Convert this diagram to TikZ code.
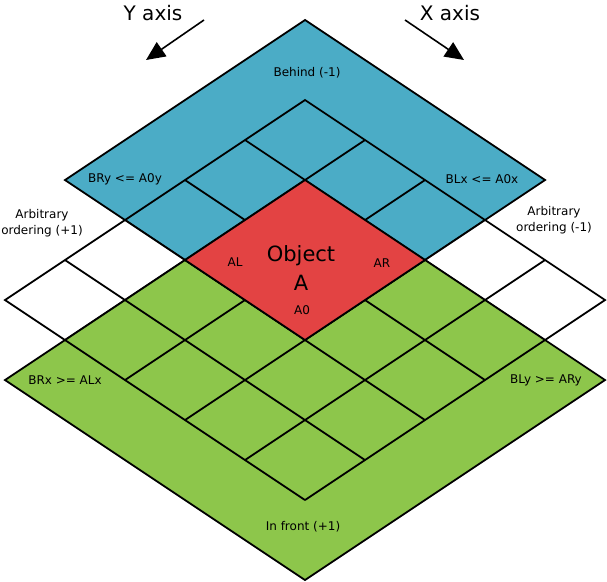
\documentclass[tikz,border=0pt]{standalone}
\usepackage{fontspec}
\setmainfont{DejaVu Sans}
\usepackage{tikz}
\usetikzlibrary{arrows.meta}
\definecolor{behindblue}{HTML}{4BACC6}
\definecolor{frontgreen}{HTML}{8DC64B}
\definecolor{objectred}{HTML}{E34343}
\tikzset{
    iso/.style={shift={(305,180)}, x={(60pt,-40pt)}, y={(-60pt,-40pt)}},
    tile/.style={draw=black, line width=1.8pt, line join=miter},
    gridline/.style={draw=black, line width=1.8pt},
    lbl/.style={font=\fontsize{12}{16}\selectfont, align=center, inner sep=0pt},
    biglbl/.style={font=\fontsize{21}{29}\selectfont, align=center, inner sep=0pt},
    axislbl/.style={font=\fontsize{20}{24}\selectfont, inner sep=0pt},
    axisarrow/.style={-{Triangle[length=19pt, width=17pt]}, line width=1.6pt}
}

\begin{document}
\begin{tikzpicture}[x=1pt, y=-1pt]
    \useasboundingbox (0,0) rectangle (607,581);
    % axes
    \node[axislbl] (ylbl) at (153,13) {Y axis};
    \node[axislbl] (xlbl) at (450,13) {X axis};
    \coordinate (ytail) at (204,20);
    \coordinate (yhead) at (146,60);
    \coordinate (xtail) at (405,20);
    \coordinate (xhead) at (464,60);
    \draw[axisarrow] (ytail) -- (yhead);
    \draw[axisarrow] (xtail) -- (xhead);
    \begin{scope}[iso]
        % behind region
        \filldraw[tile, fill=behindblue] (-2,-2) -- (2,-2) -- (2,2) -- (-2,2) -- cycle;
        \draw[gridline] (-1,2) -- (-1,-1) -- (2,-1);
        \foreach \k in {0,1} {
            \draw[gridline] (\k,-1) -- (\k,0) (-1,\k) -- (0,\k);
        }
        % arbitrary ordering cells
        \filldraw[tile, fill=white] (-1,2) -- (0,2) -- (0,4) -- (-1,4) -- cycle;
        \draw[gridline] (-1,3) -- (0,3);
        \filldraw[tile, fill=white] (2,-1) -- (4,-1) -- (4,0) -- (2,0) -- cycle;
        \draw[gridline] (3,-1) -- (3,0);
        % in front region
        \filldraw[tile, fill=frontgreen] (0,0) -- (5,0) -- (5,5) -- (0,5) -- cycle;
        \foreach \k in {2,3,4} {
            \draw[gridline] (\k,0) -- (\k,4) (0,\k) -- (4,\k);
        }
        \draw[gridline] (1,2) -- (1,4) (2,1) -- (4,1);
        % object A
        \filldraw[tile, fill=objectred] (0,0) -- (2,0) -- (2,2) -- (0,2) -- cycle;
    \end{scope}
    \node[lbl] (behind) at (307,73) {Behind (-1)};
    \node[lbl] (bry) at (125,179) {BRy <= A0y};
    \node[lbl] (blx) at (482,179) {BLx <= A0x};
    \node[lbl] (arbleft) at (42,223) {Arbitrary\\ordering (+1)};
    \node[lbl] (arbright) at (554,220) {Arbitrary\\ordering (-1)};
    \node[biglbl] (obja) at (301,268) {Object\\A};
    \node[lbl] (al) at (235,262) {AL};
    \node[lbl] (ar) at (382,263) {AR};
    \node[lbl] (ao) at (302,310) {A0};
    \node[lbl] (brx) at (65,380) {BRx >= ALx};
    \node[lbl] (bly) at (546,380) {BLy >= ARy};
    \node[lbl] (front) at (303,527) {In front (+1)};
\end{tikzpicture}
\end{document}
